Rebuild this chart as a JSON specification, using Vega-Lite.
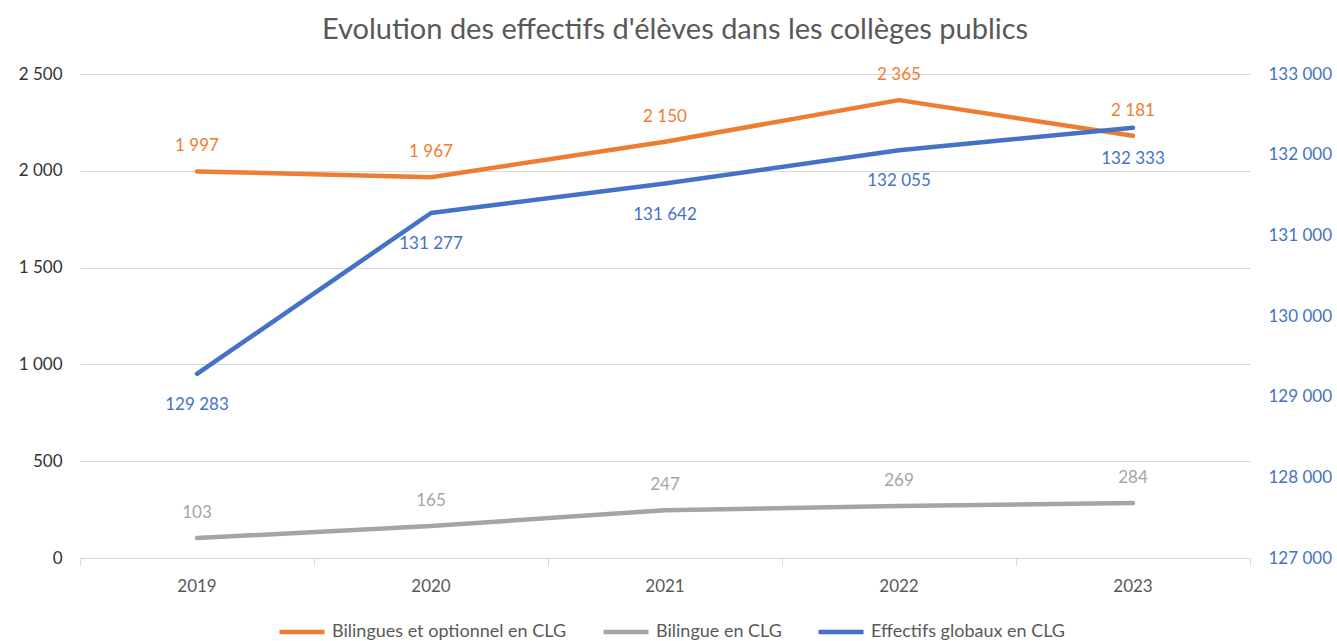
{
  "$schema": "https://vega.github.io/schema/vega-lite/v6.json",
  "width": 1170,
  "height": 484,
  "autosize": {"type": "none"},
  "padding": {"left": 80, "top": 74, "right": 87, "bottom": 83},
  "title": {
    "text": "Evolution des effectifs d'élèves dans les collèges publics",
    "fontSize": 29,
    "fontWeight": "normal",
    "color": "#595959",
    "anchor": "middle",
    "dx": 10,
    "offset": 20
  },
  "data": {
    "values": [
      {"year": "2019", "series": "Bilingues et optionnel en CLG", "value": 1997},
      {"year": "2020", "series": "Bilingues et optionnel en CLG", "value": 1967},
      {"year": "2021", "series": "Bilingues et optionnel en CLG", "value": 2150},
      {"year": "2022", "series": "Bilingues et optionnel en CLG", "value": 2365},
      {"year": "2023", "series": "Bilingues et optionnel en CLG", "value": 2181},
      {"year": "2019", "series": "Bilingue en CLG", "value": 103},
      {"year": "2020", "series": "Bilingue en CLG", "value": 165},
      {"year": "2021", "series": "Bilingue en CLG", "value": 247},
      {"year": "2022", "series": "Bilingue en CLG", "value": 269},
      {"year": "2023", "series": "Bilingue en CLG", "value": 284},
      {"year": "2019", "series": "Effectifs globaux en CLG", "value": 129283},
      {"year": "2020", "series": "Effectifs globaux en CLG", "value": 131277},
      {"year": "2021", "series": "Effectifs globaux en CLG", "value": 131642},
      {"year": "2022", "series": "Effectifs globaux en CLG", "value": 132055},
      {"year": "2023", "series": "Effectifs globaux en CLG", "value": 132333}
    ]
  },
  "encoding": {
    "x": {
      "field": "year",
      "type": "ordinal",
      "scale": {"type": "band", "paddingInner": 0, "paddingOuter": 0},
      "axis": {
        "title": null,
        "labelAngle": 0,
        "bandPosition": 1,
        "tickExtra": true,
        "ticks": true,
        "tickSize": 7,
        "tickColor": "#D9D9D9",
        "domainColor": "#D9D9D9",
        "labelColor": "#595959",
        "labelFontSize": 17,
        "labelPadding": 13
      }
    }
  },
  "layer": [
    {
      "encoding": {
        "y": {
          "field": "value",
          "type": "quantitative",
          "scale": {"domain": [0, 2500], "nice": false, "zero": true},
          "axis": {
            "title": null,
            "orient": "left",
            "values": [0, 500, 1000, 1500, 2000, 2500],
            "format": ",d",
            "domain": false,
            "ticks": false,
            "grid": true,
            "gridColor": "#D9D9D9",
            "labelColor": "#333333",
            "labelFontSize": 17,
            "labelPadding": 18
          }
        }
      },
      "layer": [
        {
          "transform": [{"filter": "datum.series !== 'Effectifs globaux en CLG'"}],
          "mark": {"type": "line", "strokeWidth": 4.5, "strokeCap": "round", "strokeJoin": "round"},
          "encoding": {
            "color": {
              "field": "series",
              "type": "nominal",
              "scale": {
                "domain": ["Bilingues et optionnel en CLG", "Bilingue en CLG", "Effectifs globaux en CLG"],
                "range": ["#ED7D31", "#A5A5A5", "#4472C4"]
              },
              "legend": {
                "title": null,
                "orient": "none",
                "direction": "horizontal",
                "legendX": 197,
                "legendY": 533,
                "symbolType": "stroke",
                "symbolSize": 2025,
                "symbolStrokeWidth": 4.5,
                "labelFontSize": 18,
                "labelColor": "#595959",
                "labelOffset": 5,
                "columnPadding": 27,
                "labelLimit": 400
              }
            }
          }
        },
        {
          "transform": [{"filter": "datum.series === 'Bilingues et optionnel en CLG'"}],
          "mark": {"type": "text", "dy": -25, "fontSize": 17, "color": "#ED7D31"},
          "encoding": {"text": {"field": "value", "type": "quantitative", "format": ",d"}}
        },
        {
          "transform": [{"filter": "datum.series === 'Bilingue en CLG'"}],
          "mark": {"type": "text", "dy": -25, "fontSize": 17, "color": "#A5A5A5"},
          "encoding": {"text": {"field": "value", "type": "quantitative", "format": ",d"}}
        }
      ]
    },
    {
      "transform": [{"filter": "datum.series === 'Effectifs globaux en CLG'"}],
      "encoding": {
        "y": {
          "field": "value",
          "type": "quantitative",
          "scale": {"domain": [127000, 133000], "nice": false, "zero": false},
          "axis": {
            "title": null,
            "orient": "right",
            "values": [127000, 128000, 129000, 130000, 131000, 132000, 133000],
            "format": ",d",
            "domain": false,
            "ticks": false,
            "grid": false,
            "labelColor": "#4472C4",
            "labelFontSize": 17,
            "labelPadding": 18
          }
        }
      },
      "layer": [
        {
          "mark": {"type": "line", "strokeWidth": 4.5, "strokeCap": "round", "strokeJoin": "round"},
          "encoding": {
            "color": {"field": "series", "type": "nominal"}
          }
        },
        {
          "mark": {"type": "text", "dy": 31, "fontSize": 17, "color": "#4472C4"},
          "encoding": {"text": {"field": "value", "type": "quantitative", "format": ",d"}}
        }
      ]
    }
  ],
  "resolve": {"scale": {"y": "independent"}},
  "config": {
    "font": "Lato",
    "view": {"stroke": null},
    "locale": {
      "number": {"decimal": ",", "thousands": " ", "grouping": [3], "currency": ["", " €"]}
    }
  }
}
